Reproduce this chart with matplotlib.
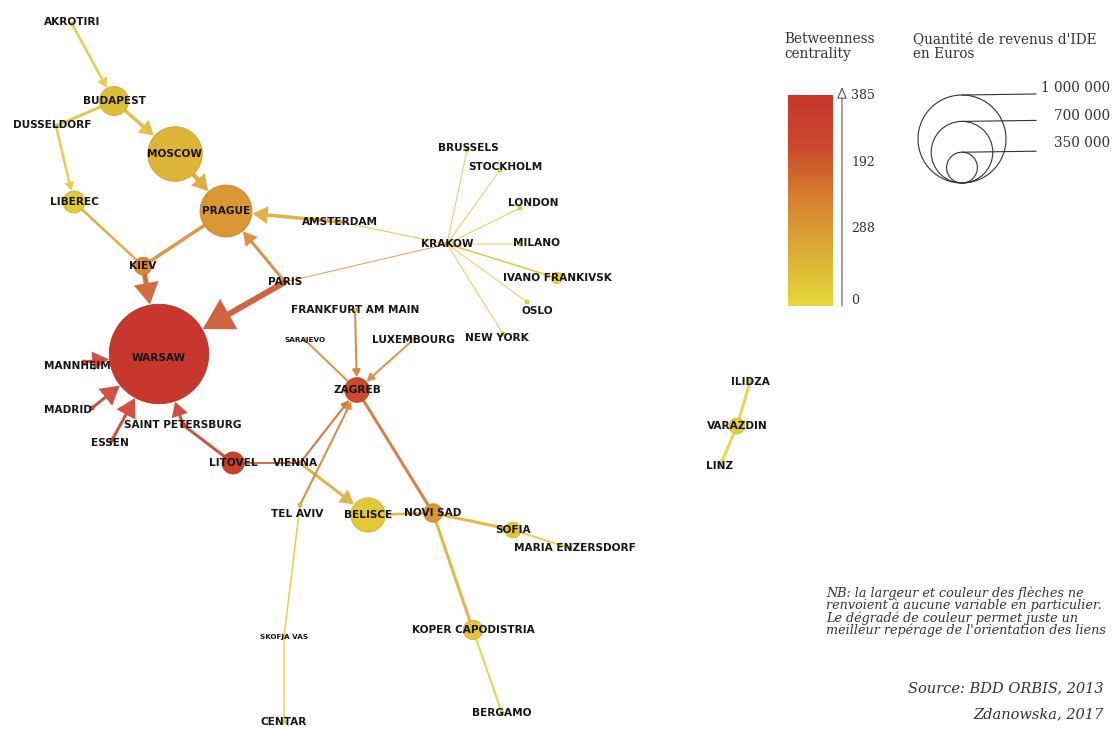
import numpy as np
import matplotlib
matplotlib.use("Agg")
import matplotlib.pyplot as plt
from matplotlib.patches import Circle, FancyArrowPatch
from matplotlib.colors import LinearSegmentedColormap, to_rgb

# nodes: layout position (pixels), FDI revenue (euros), betweenness centrality
nodes = ["AKROTIRI", "BUDAPEST", "DUSSELDORF", "MOSCOW", "PRAGUE", "LIBEREC",
         "KIEV", "AMSTERDAM", "PARIS", "KRAKOW", "BRUSSELS", "STOCKHOLM",
         "LONDON", "MILANO", "IVANO FRANKIVSK", "OSLO", "NEW YORK",
         "FRANKFURT AM MAIN", "SARAJEVO", "LUXEMBOURG", "ZAGREB", "WARSAW",
         "MANNHEIM", "MADRID", "ESSEN", "SAINT PETERSBURG", "LITOVEL", "VIENNA",
         "TEL AVIV", "BELISCE", "NOVI SAD", "SOFIA", "MARIA ENZERSDORF",
         "KOPER CAPODISTRIA", "BERGAMO", "SKOFJA VAS", "CENTAR", "ILIDZA",
         "VARAZDIN", "LINZ"]
node_x = [72, 114, 56, 175, 226, 74, 143, 340, 285, 447, 467, 500,
          520, 520, 557, 527, 503, 355, 305, 413, 357, 159,
          84, 92, 112, 183, 233, 300, 300, 368, 433, 513, 570,
          473, 502, 284, 284, 750, 737, 720]
node_y = [24, 101, 126, 154, 211, 202, 266, 222, 282, 244, 150, 170,
          208, 244, 278, 302, 334, 310, 340, 340, 390, 354,
          362, 408, 440, 425, 463, 463, 505, 515, 513, 530, 548,
          630, 713, 637, 722, 382, 426, 466]
revenue = [40e3, 330e3, 40e3, 620e3, 590e3, 250e3, 200e3, 30e3, 30e3, 30e3, 20e3, 20e3,
           20e3, 20e3, 130e3, 20e3, 30e3, 30e3, 40e3, 30e3, 280e3, 1130e3,
           30e3, 30e3, 30e3, 60e3, 250e3, 40e3, 20e3, 390e3, 210e3, 180e3, 30e3,
           220e3, 40e3, 20e3, 20e3, 60e3, 180e3, 40e3]
betweenness = [0, 60, 30, 80, 150, 40, 180, 60, 220, 130, 0, 0,
               0, 0, 0, 0, 0, 60, 0, 0, 290, 385,
               300, 300, 300, 330, 340, 170, 60, 40, 150, 40, 0,
               40, 0, 20, 0, 0, 20, 0]
label_shift = {"DUSSELDORF": (-4, -1), "MANNHEIM": (-7, 4), "MADRID": (-24, 2),
               "ESSEN": (-2, 3), "TEL AVIV": (-3, 9), "BRUSSELS": (1, -2),
               "STOCKHOLM": (5, -3), "LONDON": (13, -5), "MILANO": (17, -1),
               "OSLO": (10, 9), "NEW YORK": (-6, 4), "MARIA ENZERSDORF": (5, 0),
               "VIENNA": (-4, 0), "AKROTIRI": (0, -2), "WARSAW": (0, 4)}
small_labels = ["SARAJEVO", "SKOFJA VAS"]

# directed links: source, target, line width, arrow head size
edge_src = ["AKROTIRI", "BUDAPEST", "MOSCOW", "DUSSELDORF", "DUSSELDORF", "LIBEREC",
            "KIEV", "AMSTERDAM", "PARIS", "PARIS", "KIEV",
            "KRAKOW", "KRAKOW", "KRAKOW", "KRAKOW", "KRAKOW", "KRAKOW", "KRAKOW",
            "KRAKOW", "KRAKOW",
            "MANNHEIM", "MADRID", "ESSEN", "SAINT PETERSBURG", "LITOVEL",
            "VIENNA", "VIENNA", "VIENNA", "FRANKFURT AM MAIN", "SARAJEVO", "LUXEMBOURG",
            "TEL AVIV", "SKOFJA VAS", "CENTAR", "ZAGREB", "BELISCE", "NOVI SAD", "SOFIA",
            "NOVI SAD", "KOPER CAPODISTRIA", "ILIDZA", "VARAZDIN"]
edge_dst = ["BUDAPEST", "MOSCOW", "PRAGUE", "BUDAPEST", "LIBEREC", "KIEV",
            "PRAGUE", "PRAGUE", "PRAGUE", "WARSAW", "WARSAW",
            "AMSTERDAM", "PARIS", "BRUSSELS", "STOCKHOLM", "LONDON", "MILANO",
            "IVANO FRANKIVSK", "OSLO", "NEW YORK",
            "WARSAW", "WARSAW", "WARSAW", "WARSAW", "SAINT PETERSBURG",
            "LITOVEL", "ZAGREB", "BELISCE", "ZAGREB", "ZAGREB", "ZAGREB",
            "ZAGREB", "TEL AVIV", "SKOFJA VAS", "NOVI SAD", "NOVI SAD", "SOFIA",
            "MARIA ENZERSDORF", "KOPER CAPODISTRIA", "BERGAMO", "VARAZDIN", "LINZ"]
edge_w = [2.5, 3.5, 4.5, 3, 2.5, 2.5,
          3.5, 3.5, 3, 6, 5,
          1, 1, 1, 1, 1, 1, 1.5, 1, 1,
          3, 3, 3, 3, 3,
          2, 2, 3, 2, 2, 2,
          2, 1.5, 1.5, 3, 2.5, 3, 2,
          3, 2, 3, 3]
edge_head = [6, 9, 9, 0, 5, 0,
             0, 10, 9, 21, 14,
             0, 0, 0, 0, 0, 0, 0, 0, 0,
             12, 14, 14, 10, 0,
             0, 6, 9, 6, 0, 6,
             5, 0, 0, 0, 0, 0, 0,
             0, 0, 0, 0]

cbar_ticks = [385, 192, 288, 0]
cbar_tick_pos = [95, 162, 228, 300]
size_legend = [1_000_000, 700_000, 350_000]
size_labels = ["1 000 000", "700 000", "350 000"]

cmap = LinearSegmentedColormap.from_list(
    "btw", ["#e6d83a", "#dcae37", "#d7822f", "#cb4a2c", "#c8372d"])
BTW_MAX = 385
SERIF = "DejaVu Serif"
TXT = "#333333"


def radius(rev):
    return 44 * rev / 1e6


fig = plt.figure(figsize=(11.13, 7.29), dpi=100)
ax = fig.add_axes([0, 0, 1, 1])
ax.set_xlim(0, 1113)
ax.set_ylim(729, 0)
ax.axis("off")

pos = {n: (x, y) for n, x, y in zip(nodes, node_x, node_y)}
rad = {n: radius(r) for n, r in zip(nodes, revenue)}
col = {n: np.array(to_rgb(cmap(b / BTW_MAX))) for n, b in zip(nodes, betweenness)}

# links
for s, d, w, h in zip(edge_src, edge_dst, edge_w, edge_head):
    c = 0.45 * col[s] + 0.55 * col[d]
    fade = 0.1 if w > 1.2 else 0.2
    c = c * (1 - fade) + fade
    if h > 0:
        style = f"-|>,head_length={h * 0.72:.1f},head_width={h * 0.42:.1f}"
    else:
        style = "-"
    arr = FancyArrowPatch(pos[s], pos[d], arrowstyle=style, mutation_scale=1,
                          shrinkA=rad[s] * 0.72, shrinkB=rad[d] * 0.72 + 0.5,
                          lw=w * 0.72, color=c, joinstyle="miter", zorder=1)
    ax.add_patch(arr)

# nodes
for n in nodes:
    c = col[n]
    ax.add_patch(Circle(pos[n], max(rad[n], 2), facecolor=c,
                        edgecolor=c * 0.9, lw=0.6, zorder=2))

# labels
for n in nodes:
    dx, dy = label_shift.get(n, (0, 0))
    fs = 5.2 if n in small_labels else 7.6
    ax.text(pos[n][0] + dx, pos[n][1] + dy, n, fontsize=fs, fontweight="bold",
            color="#151515", ha="center", va="center", zorder=3,
            family="DejaVu Sans")

# betweenness colour bar
grad = np.linspace(1, 0, 256)[:, None]
ax.imshow(grad, cmap=cmap, extent=(788, 833, 306, 95), origin="upper",
          aspect="auto", zorder=2)
ax.annotate("", xy=(842, 87), xytext=(842, 306),
            arrowprops=dict(arrowstyle="-|>,head_length=0.7,head_width=0.3",
                            fc="white", ec="#555555", lw=0.8, shrinkA=0, shrinkB=0))
for t, yy in zip(cbar_ticks, cbar_tick_pos):
    ax.text(851, yy, str(t), fontsize=9, family=SERIF,
            color=TXT, va="center", ha="left")
ax.text(784, 32, "Betweenness\ncentrality", fontsize=9.8, family=SERIF,
        color=TXT, va="top", ha="left", linespacing=1.05)

# size legend
ax.text(913, 32, "Quantité de revenus d'IDE\nen Euros", fontsize=9.8,
        family=SERIF, color=TXT, va="top", ha="left", linespacing=1.05)
base_y = 183
cx = 962
label_y = [88, 116, 143]
for v, lab, ly in zip(size_legend, size_labels, label_y):
    r = radius(v)
    ax.add_patch(Circle((cx, base_y - r), r, fill=False, ec=TXT, lw=0.8))
    top = base_y - 2 * r
    ax.plot([cx, 1036], [top, top - 1], color=TXT, lw=0.8)
    ax.text(1110, ly, lab, fontsize=9.8, family=SERIF, color=TXT,
            ha="right", va="center")

# notes
note = ("NB: la largeur et couleur des flèches ne\n"
        "renvoient à aucune variable en particulier.\n"
        "Le dégradé de couleur permet juste un\n"
        "meilleur repérage de l'orientation des liens")
ax.text(826, 586, note, fontsize=9.2, family=SERIF, style="italic",
        color=TXT, va="top", ha="left", linespacing=0.92)
ax.text(1104, 688, "Source: BDD ORBIS, 2013", fontsize=10.5, family=SERIF,
        style="italic", color=TXT, ha="right", va="center")
ax.text(1104, 714, "Zdanowska, 2017", fontsize=10.5, family=SERIF,
        style="italic", color=TXT, ha="right", va="center")

fig.savefig("out.png", dpi=100)
